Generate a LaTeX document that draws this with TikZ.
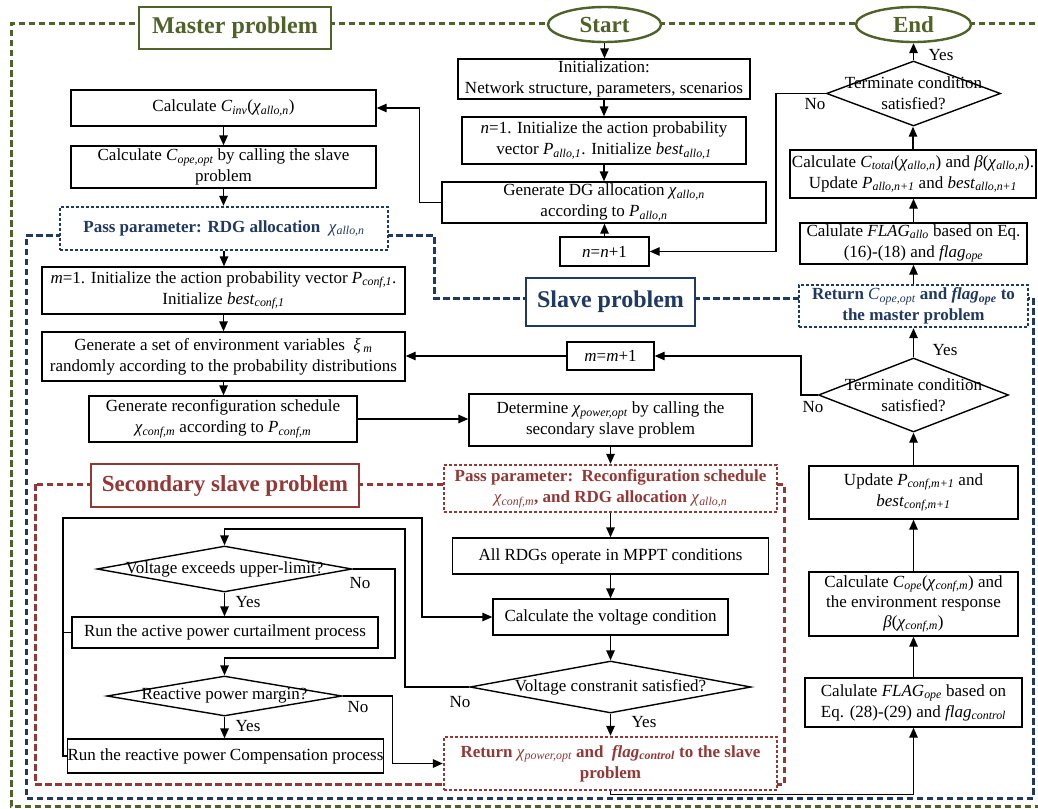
\documentclass[tikz,border=0pt]{standalone}
\usepackage{fontspec}
\setmainfont{Liberation Serif}
\usetikzlibrary{shapes.geometric,arrows.meta}
\definecolor{mgreen}{RGB}{79,98,40}
\definecolor{mblue}{RGB}{31,56,100}
\definecolor{mred}{RGB}{149,55,53}
\newcommand\sbs[1]{\textsubscript{\itshape #1}}
\begin{document}
\begin{tikzpicture}[x=1pt,y=-1pt,
  every node/.style={font=\fontsize{17}{21}\selectfont},
  sz/.style 2 args={minimum width=#1pt, minimum height=#2pt},
  box/.style={draw, fill=white, line width=1.4pt, align=center, inner sep=0pt},
  dia/.style={draw, fill=white, shape=diamond, line width=1.4pt, inner sep=0pt},
  oval/.style={draw=mgreen, fill=white, ellipse, line width=2.4pt, text=mgreen, font=\fontsize{23}{26}\selectfont\bfseries, inner sep=0pt},
  ttl/.style={fill=white, line width=2.8pt, font=\fontsize{24}{28}\selectfont\bfseries, inner sep=0pt},
  dotbox/.style={box, dash pattern=on 3pt off 2pt, line width=2.4pt, font=\fontsize{17}{21}\selectfont\bfseries},
  bframe/.style={line width=3pt, dash pattern=on 6.5pt off 3.5pt},
  arr/.style={line width=1.4pt, -{Triangle[length=10pt,width=8.5pt]}},
  ln/.style={line width=1.4pt},
  lab/.style={inner sep=0pt, align=center},
]
\useasboundingbox (0,0) rectangle (1038,808);
% frames
\draw[bframe, draw=mgreen] (1045,24) -- (11,24) -- (11,806.5) -- (1045,806.5);
\draw[bframe, draw=mblue] (26,235) -- (434,235) -- (434,298) -- (1033,298) -- (1033,798) -- (26,798) -- cycle;
\draw[bframe, draw=mred] (35,484) rectangle (784,784);

% titles
\node[ttl, draw=mgreen, text=mgreen, sz={192}{42}] (master) at (235,28) {Master problem};
\node[oval, sz={113}{35}] (start) at (604.5,24.5) {Start};
\node[oval, sz={115}{35}] (end) at (913.5,24.5) {End};
\node[ttl, draw=mblue, text=mblue, sz={169}{48}] (slave) at (610.5,302) {Slave problem};
\node[ttl, draw=mred, text=mred, sz={268}{43}, font=\fontsize{23}{27}\selectfont\bfseries] (secondary) at (225,485.5) {Secondary slave problem};

% left column
\node[box, sz={305}{36}] (cinv) at (223.5,108) {Calculate \textit{C}\sbs{inv}(\textit{χ}\sbs{allo,n})};
\node[box, sz={305}{42}] (cope) at (223.5,167) {Calculate \textit{C}\sbs{ope,opt} by calling the slave\\problem};
\node[dotbox, draw=mblue, text=mblue, sz={328}{43}] (passrdg) at (224,228.5) {Pass parameter: RDG allocation\ \ {\mdseries\textit{χ}\sbs{allo,n}}};
\node[box, sz={363}{47}] (m1) at (223.5,290.5) {\textit{m}=1. Initialize the action probability vector \textit{P}\sbs{conf,1}.\\Initialize \textit{best}\sbs{conf,1}};
\node[box, sz={363}{49}] (env) at (223.5,356.5) {Generate a set of environment variables\ \ \textit{ξ}\,\sbs{m}\\randomly according to the probability distributions};
\node[box, sz={268}{46}] (reconf) at (223,419) {Generate reconfiguration schedule\\\textit{χ}\sbs{conf,m} according to \textit{P}\sbs{conf,m}};

% middle column
\node[box, sz={292}{40}] (init) at (604,79) {Initialization:\\Network structure, parameters, scenarios};
\node[box, sz={284}{47}] (n1) at (604,140.5) {\textit{n}=1. Initialize the action probability\\vector \textit{P}\sbs{allo,1}. Initialize \textit{best}\sbs{allo,1}};
\node[box, sz={324}{41}] (gendg) at (604,202.5) {Generate DG allocation \textit{χ}\sbs{allo,n}\\according to \textit{P}\sbs{allo,n}};
\node[box, sz={89}{29}] (nn1) at (604.5,251.5) {\textit{n}=\textit{n}+1};
\node[box, sz={87}{28}] (mm1) at (610.5,356) {\textit{m}=\textit{m}+1};
\node[box, sz={283}{52}] (determine) at (610.5,420) {Determine \textit{χ}\sbs{power,opt} by calling the\\secondary slave problem};
\node[dotbox, draw=mred, text=mred, sz={333}{47}] (passred) at (610.5,488.5) {Pass parameter:\ \ Reconfiguration schedule\\{\mdseries\textit{χ}\sbs{conf,m}}, and RDG allocation {\mdseries\textit{χ}\sbs{allo,n}}};
\node[box, sz={316}{36}] (allrdg) at (610.5,556) {All RDGs operate in MPPT conditions};
\node[box, sz={235}{36}] (calcv) at (610.5,617) {Calculate the voltage condition};
\node[dia, sz={281}{52}] (vcons) at (610.5,687) {};
\node[lab] at (vcons) {Voltage constranit satisfied?};
\node[dotbox, draw=mred, text=mred, sz={333}{53}] (retpow) at (610.5,763.5) {Return {\mdseries\textit{χ}\sbs{power,opt}} and\ \ \textit{flag}\sbs{control} to the slave\\problem};

% right column
\node[dia, sz={174}{65}] (d1) at (913.5,93.5) {};
\node[lab] at (d1) {Terminate condition\\satisfied?};
\node[box, sz={246}{48}] (ctotal) at (913,174) {Calculate \textit{C}\sbs{total}(\textit{χ}\sbs{allo,n}) and \textit{β}(\textit{χ}\sbs{allo,n}).\\Update \textit{P}\sbs{allo,n+1} and \textit{best}\sbs{allo,n+1}};
\node[box, sz={227}{41}] (flagallo) at (913.5,243.5) {Calulate \textit{FLAG}\sbs{allo} based on Eq.\\(16)-(18) and \textit{flag}\sbs{ope}};
\node[dotbox, draw=mblue, text=mblue, sz={229}{42}] (retcope) at (913.5,306) {Return {\mdseries\textit{C}\sbs{ope,opt}} and \textit{flag}\sbs{ope} to\\the master problem};
\node[dia, sz={190}{74}] (d2) at (913.5,395) {};
\node[lab] at (d2) {Terminate condition\\satisfied?};
\node[box, sz={209}{53}] (update) at (913.5,492.5) {Update \textit{P}\sbs{conf,m+1} and\\\textit{best}\sbs{conf,m+1}};
\node[box, sz={209}{64}, font=\fontsize{17}{20}\selectfont] (copecalc) at (913.5,604) {Calculate \textit{C}\sbs{ope}(\textit{χ}\sbs{conf,m}) and\\the environment response\\\textit{β}(\textit{χ}\sbs{conf,m})};
\node[box, sz={217}{49}] (flagope) at (913.5,702.5) {Calulate \textit{FLAG}\sbs{ope} based on\\Eq. (28)-(29) and \textit{flag}\sbs{control}};

% secondary left
\node[dia, sz={255}{46}] (vexc) at (224.5,569) {};
\node[lab] at (vexc) {Voltage exceeds upper-limit?};
\node[box, sz={306}{31}] (runact) at (225,632.5) {Run the active power curtailment process};
\node[dia, sz={235}{40}] (reac) at (224.5,696) {};
\node[lab] at (reac) {Reactive power margin?};
\node[box, sz={315}{34}] (runreac) at (225.5,756) {Run the reactive power Compensation process};

% labels
\node[lab] at (941,55) {Yes};
\node[lab] at (815,104) {No};
\node[lab] at (945,350) {Yes};
\node[lab] at (813,407) {No};
\node[lab] at (460,702) {No};
\node[lab] at (644,722) {Yes};
\node[lab] at (360,583) {No};
\node[lab] at (248,602) {Yes};
\node[lab] at (358,707) {No};
\node[lab] at (248,726) {Yes};

% connectors
\draw[arr] (start.south) -- (start.south |- init.north);
\draw[arr] (init.south) -- (init.south |- n1.north);
\draw[arr] (n1.south) -- (n1.south |- gendg.north);
\draw[arr] (nn1.north) -- (nn1.north |- gendg.south);
\draw[arr] (gendg.west) -- ++(-22,0) |- (cinv.east);
\draw[arr] (cinv.south) -- (cinv.south |- cope.north);
\draw[arr] (cope.south) -- (cope.south |- passrdg.north);
\draw[arr] (passrdg.south) -- (passrdg.south |- m1.north);
\draw[arr] (m1.south) -- (m1.south |- env.north);
\draw[arr] (env.south) -- (env.south |- reconf.north);
\draw[arr] (reconf.east) -- (reconf.east -| determine.west);
\draw[arr] (determine.south) -- (determine.south |- passred.north);
\draw[arr] (passred.south) -- (passred.south |- allrdg.north);
\draw[arr] (allrdg.south) -- (allrdg.south |- calcv.north);
\draw[arr] (calcv.south) -- (calcv.south |- vcons.north);
\draw[arr] (vcons.south) -- (vcons.south |- retpow.north);
\coordinate (c1) at (405,529);
\draw[arr] (vcons.west) -| (c1) -| (vexc.north);
\draw[arr] (vexc.south) -- (vexc.south |- runact.north);
\coordinate (c2) at (395,658);
\draw[arr] (vexc.east) -| (c2) -| (reac.north);
\draw[arr] (reac.south) -- (reac.south |- runreac.north);
\draw[arr] (reac.east) -- ++(50,0) |- (retpow.west);
\coordinate (lb) at (63,518);
\coordinate (rb) at (422,518);
\draw[arr] (runreac.west) -| (lb) -- (rb) |- (calcv.west);
\draw[ln] (runact.west) -- (runact.west -| lb);
\draw[arr] (retpow.south) -- ++(0,3) -| (flagope.south);
\draw[arr] (flagope.north) -- (flagope.north |- copecalc.south);
\draw[arr] (copecalc.north) -- (copecalc.north |- update.south);
\draw[arr] (update.north) -- (update.north |- d2.south);
\draw[arr] (d2.north) -- (d2.north |- retcope.south);
\draw[arr] (d2.west) -- ++(-17,0) |- (mm1.east);
\draw[arr] (mm1.west) -- (mm1.west -| env.east);
\draw[arr] (retcope.north) -- (retcope.north |- flagallo.south);
\draw[arr] (flagallo.north) -- (flagallo.north |- ctotal.south);
\draw[arr] (ctotal.north) -- (ctotal.north |- d1.south);
\draw[arr] (d1.north) -- (d1.north |- end.south);
\draw[arr] (d1.west) -- ++(-50,0) |- (nn1.east);
\end{tikzpicture}
\end{document}
